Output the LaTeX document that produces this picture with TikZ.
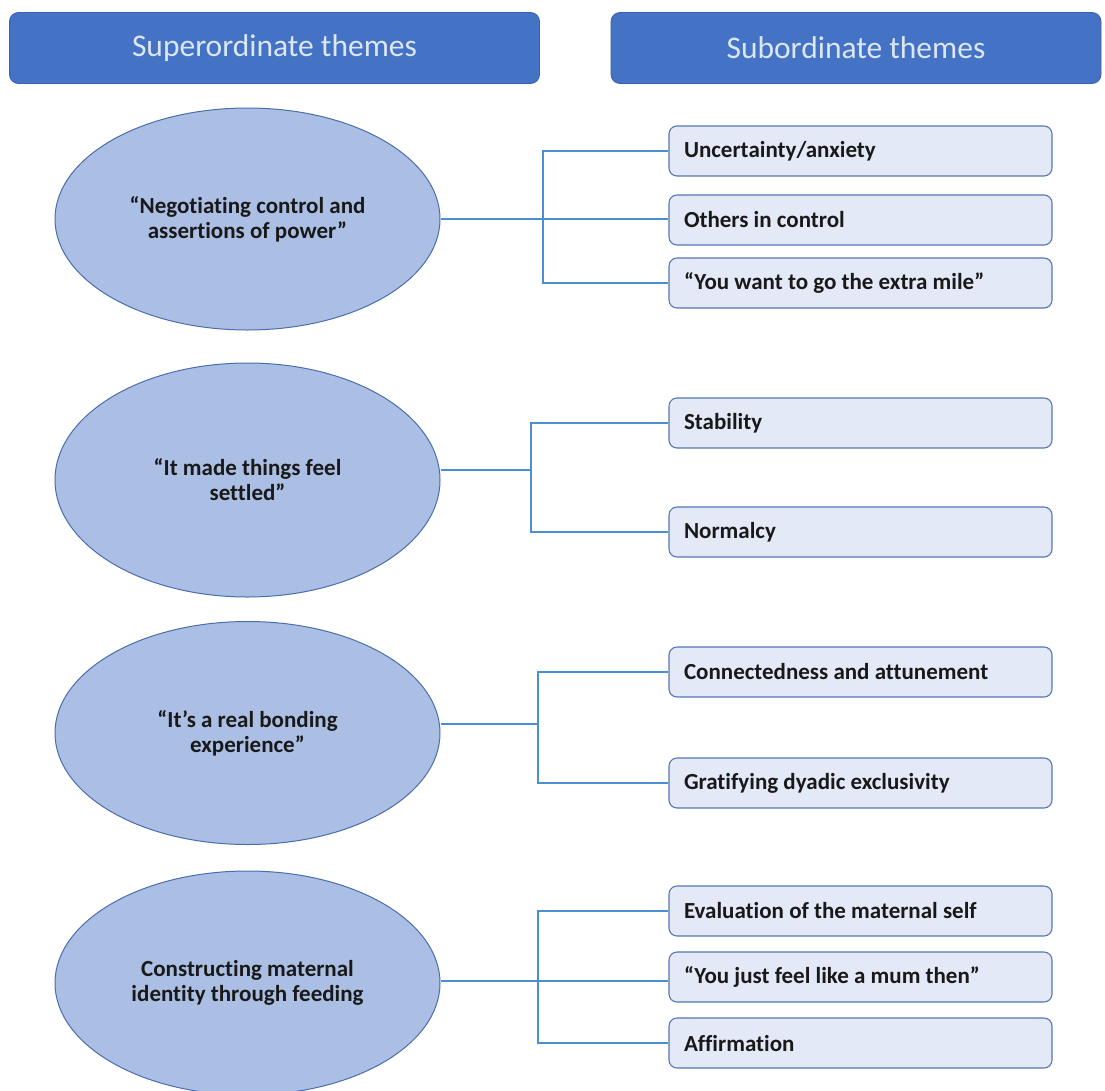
\documentclass[tikz,border=0pt]{standalone}
\usepackage{fontspec}
\setmainfont{Carlito}[Ligatures=NoCommon]
\usepackage{xcolor}
\usetikzlibrary{positioning,shapes.geometric,arrows.meta}

\definecolor{headblue}{HTML}{4472C4}
\definecolor{headline}{HTML}{3A62AA}
\definecolor{headtext}{HTML}{DCE6F4}
\definecolor{ellfill}{HTML}{ABBFE4}
\definecolor{elldraw}{HTML}{4A6DAE}
\definecolor{boxfill}{HTML}{E3E9F6}
\definecolor{boxdraw}{HTML}{5677B6}
\definecolor{linkblue}{HTML}{4A8FD4}

\begin{document}
\begin{tikzpicture}[x=1pt,y=-1pt,
    header/.style={draw=headline,fill=headblue,rounded corners=9pt,line width=0.8pt,
      minimum width=#1,minimum height=71pt,text=headtext,font=\fontsize{31.5}{36}\selectfont},
    superth/.style={ellipse,draw=elldraw,fill=ellfill,line width=1pt,minimum width=385pt,
      minimum height=#1,inner sep=0pt,align=center,font=\fontsize{23}{25}\selectfont\bfseries,text=black!90},
    subth/.style={draw=boxdraw,fill=boxfill,rounded corners=8pt,line width=1.1pt,minimum width=383pt,
      minimum height=50pt,text width=353pt,inner sep=0pt,align=flush left,
      font=\fontsize{23}{25}\selectfont\bfseries,text=black!90},
    link/.style={draw=linkblue,line width=1.4pt}]

  \useasboundingbox (0,0) rectangle (1105,1090);

  % column headers
  \node[header=530pt] (hsup) at (274.5,48) {Superordinate themes};
  \node[header=490pt] (hsub) at (856,48) {Subordinate themes};

  % superordinate themes
  \node[superth=222pt] (sup1) at (247.5,219) {“Negotiating control and\\assertions of power”};
  \node[superth=234pt] (sup2) at (247.5,480) {“It made things feel\\settled”};
  \node[superth=223pt] (sup3) at (247.5,733) {“It’s a real bonding\\experience”};
  \node[superth=224pt] (sup4) at (247.5,983) {Constructing maternal\\identity through feeding};

  % subordinate themes
  \node[subth] (sub1) at (860.5,151) {Uncertainty/anxiety};
  \node[subth] (sub2) at (860.5,220) {Others in control};
  \node[subth] (sub3) at (860.5,283) {“You want to go the extra mile”};
  \node[subth] (sub4) at (860.5,423) {Stability};
  \node[subth] (sub5) at (860.5,532) {Normalcy};
  \node[subth] (sub6) at (860.5,672) {Connectedness and attunement};
  \node[subth] (sub7) at (860.5,783) {Gratifying dyadic exclusivity};
  \node[subth] (sub8) at (860.5,911) {Evaluation of the maternal self};
  \node[subth] (sub9) at (860.5,977) {“You just feel like a mum then”};
  \node[subth] (sub10) at (860.5,1043) {Affirmation};

  % junction points of the brackets
  \coordinate (j1) at (543,219);
  \coordinate (j2) at (531,470);
  \coordinate (j3) at (538,724);
  \coordinate (j4) at (538,981);

  % brackets from each superordinate theme to its subordinate themes
  \draw[link] (sub1.west) -| (j1) |- (sub3.west);
  \draw[link] (sup1.east) -- (sup1.east -| sub2.west);

  \draw[link] (sub4.west) -| (j2) |- (sub5.west);
  \draw[link] (sup2.east |- j2) -- (j2);

  \draw[link] (sub6.west) -| (j3) |- (sub7.west);
  \draw[link] (sup3.east |- j3) -- (j3);

  \draw[link] (sub8.west) -| (j4) |- (sub10.west);
  \draw[link] (sup4.east |- j4) -- (j4 -| sub9.west);

\end{tikzpicture}
\end{document}
